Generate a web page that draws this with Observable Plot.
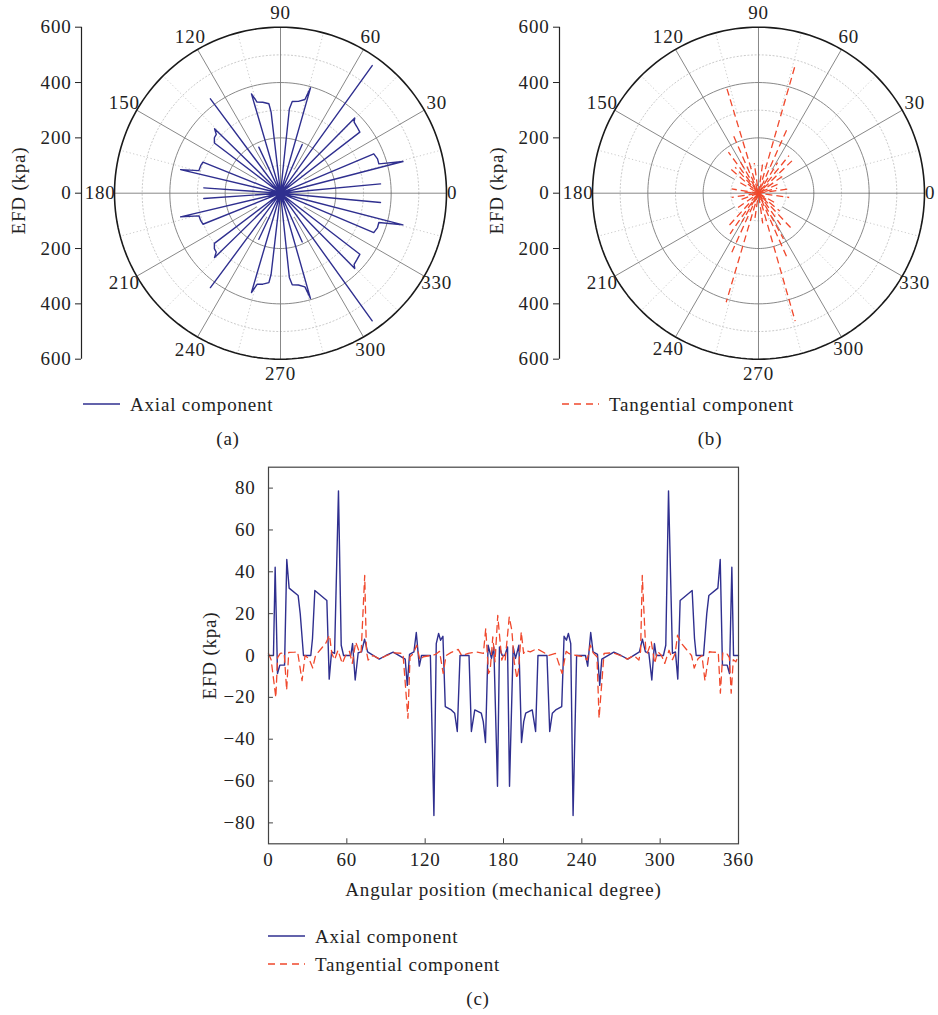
<!DOCTYPE html>
<html>
<head>
<meta charset="utf-8">
<script src="https://cdn.jsdelivr.net/npm/d3@7"></script>
<script src="https://cdn.jsdelivr.net/npm/@observablehq/plot@0.6"></script>
<style>
  html, body { margin: 0; padding: 0; background: #fff; overflow: hidden; }
  #root { position: relative; width: 938px; height: 1015px; font-family: "Liberation Serif", "Times New Roman", serif; color: #222; }
  .abs { position: absolute; }
  .txt { font-size: 19px; letter-spacing: 0.8px; white-space: nowrap; line-height: 1; }
</style>
</head>
<body>
<div id="root"></div>
<script>
// ---------------- Data ----------------
// Panel (c): Cartesian series (angle in mechanical degrees, EFD in kPa)
const axialAngle = [0, 3.8, 5.1, 6.9, 8.7, 12.3, 14, 15.8, 22.7, 24.3, 26.8, 32.4, 33.7, 35.5, 44.7, 46.5, 48.3, 50.6, 53.6, 55.7, 57.5, 63, 64.4, 66.4, 68.7, 71.3, 73.6, 75.9, 84.8, 90, 95.5, 104.7, 106.3, 108, 111.4, 113.2, 115.5, 117.2, 124, 126.7, 128.5, 130.3, 131.8, 133.6, 135.4, 140, 142.6, 144.6, 146.7, 153.6, 155.4, 158, 163, 164.5, 166.2, 168.2, 170.8, 172.6, 175.4, 176.9, 179,
  181, 183.1, 184.6, 187.4, 189.2, 191.8, 193.8, 195.5, 197, 202, 204.6, 206.4, 213.3, 215.4, 217.4, 220, 224.6, 226.4, 228.2, 229.7, 231.5, 233.3, 236, 242.8, 244.5, 246.8, 248.6, 252, 253.7, 255.3, 264.5, 270, 275.2, 284.1, 286.4, 288.7, 291.3, 293.6, 295.6, 297, 302.5, 304.3, 306.4, 309.4, 311.7, 313.5, 315.3, 324.5, 326.3, 327.6, 333.2, 335.7, 337.3, 344.2, 346, 347.7, 351.3, 353.1, 354.9, 356.2, 360];
const axialValue = [0, 0, 42.2, -8.6, -4.6, -4.6, 45.9, 32.2, 28.7, 20, 0, 0, 8.1, 31.1, 26.3, -11.3, 1.7, 1, 78.7, 4.9, 0, 0, 5.7, -11.7, 1.3, 1.7, 7.8, 1.7, -1.7, 0, 1.6, -1.7, -14.3, 0.5, 1.7, 11, -5.1, 0, 0, -76.5, 5.7, 10.5, 7.3, 9.2, -24.4, -26, -27.6, -36.3, 0, 0, -36.3, -26, -27.6, -31.6, -41.6, 4.9, -1.4, 4.1, -62.5, 4.1, 0,
  0, 4.1, -62.5, 4.1, -1.4, 4.9, -41.6, -31.6, -27.6, -26, -36.3, 0, 0, -36.3, -27.6, -26, -24.4, 9.2, 7.3, 10.5, 5.7, -76.5, 0, 0, -5.1, 11, 1.7, 0.5, -14.3, -1.7, 1.6, 0, -1.7, 1.7, 7.8, 1.7, 1.3, -11.7, 5.7, 0, 0, 4.9, 78.7, 1, 1.7, -11.3, 26.3, 31.1, 8.1, 0, 0, 20, 28.7, 32.2, 45.9, -4.6, -4.6, -8.6, 42.2, 0, 0];

const tangAngle = [0, 2, 5.6, 7, 9, 12, 13.9, 15.5, 20, 22.3, 25.7, 28, 31, 33.9, 36, 40, 44, 46.7, 48.5, 50.6, 53.2, 56.5, 59, 62, 64.2, 66.8, 69.9, 71, 73.7, 75, 76.3, 80, 85.3, 90.4, 96, 103, 106.8, 108.4, 111, 113.5, 116, 118.6, 124, 128, 131, 133.8, 136, 140, 145.3, 147.9, 153, 159.5, 164.6, 166.4, 168.5, 169.8, 171.8, 173.5, 175.6, 177.4, 178.7, 180,
  181.3, 182.6, 184.4, 186.4, 188.2, 190.3, 191.5, 193.6, 195.4, 196.7, 200.5, 205.6, 212, 214.7, 219.8, 224.9, 228, 230, 232, 236, 241.4, 244, 246.5, 249, 251.6, 253.2, 257, 264, 269.6, 274.7, 280, 283.7, 285, 286.3, 289, 290.1, 293.2, 295.8, 298, 301, 303.5, 306.8, 309.4, 311.5, 313.3, 316, 320, 324, 326.1, 329, 332, 334.3, 337.7, 340, 344.5, 346.1, 348, 351, 353, 354.4, 356, 358, 360];
const tangValue = [1, -2, -20, -1, 1, 1.3, -16.5, 1.5, 1.6, 1.8, -12, 0, -1.5, -6, 0, 3, 6, 9.7, 1, -2, 2.5, -3.8, 0, 2, -3.8, 6.5, 1, 2, 38.3, 2, -2.2, 0, -1.7, 0, 1.3, 1, -30, -0.6, 1, 4.9, -2.2, -0.6, 0, 0.5, 2, -8.6, 0, 1.5, 2.9, 0, 1, 1.7, 1, 12.9, -8.6, -7, 8.9, -3, 19.2, 6.5, -2.2, 0,
  -2.2, 6.5, 18.4, 12, -3, -11, -7, 11.3, 1, 2.5, 1.7, 3.3, 1, 0, 1, -8.6, 2, 1, 0.5, 0, -0.6, -2.2, 4.9, 1, -0.6, -30, 1, 1.3, 0, -1.7, 0, -2.2, 2, 38.3, 2, 1, 6.5, -3.8, 2, 0, -3.8, 2.5, -2, 1, 9.7, 6, 3, 0, -6, -1.5, 0, -12, 1.8, 1.6, 1.5, -18, 1.3, 1, -1, -18, -2, -3, 0];

// Panel (a): polar trace of the axial component (angle in degrees, radius in kPa), 0 radius = pole
const polarAxialAngle = [0, 5.3, 0, 14.5, 16.6, 19.5, 22.9, 0, 37.6, 41, 44, 45.4, 0, 54.3, 0, 66, 0, 74.1, 75.4, 79, 82.7, 84, 0, 96.6, 97.4, 101, 104.4, 106.3, 0, 115.2, 0, 126.6, 0, 135.7, 137.5, 140, 142.8, 0, 158.2, 161, 164.5, 166.7, 0, 176, 0,
  184, 0, 193.3, 195.5, 199, 201.8, 0, 217.2, 220, 222.5, 224.3, 0, 233.4, 0, 244.8, 0, 253.7, 255.6, 259, 262.6, 263.4, 0, 276, 277.3, 281, 284.6, 285.9, 0, 294, 0, 305.7, 0, 314.6, 316, 319, 322.4, 0, 337.1, 340.5, 343.4, 345.5, 0, 354.7, 0];
const polarAxialRadius = [0, 363, 0, 457, 371, 372, 366, 0, 362, 366, 370, 382, 0, 568, 0, 193, 0, 396, 350, 338, 334, 306, 0, 295, 326, 335, 340, 374, 0, 184, 0, 425, 0, 333, 315, 312, 300, 0, 302, 305, 306, 371, 0, 278, 0,
  278, 0, 371, 306, 305, 302, 0, 300, 312, 315, 333, 0, 425, 0, 184, 0, 374, 340, 335, 326, 295, 0, 306, 334, 338, 350, 396, 0, 193, 0, 568, 0, 382, 370, 366, 362, 0, 366, 372, 371, 457, 0, 363, 0];

// Panel (b): polar trace of the tangential component, rays from the pole (angle deg, radius kPa)
const polarTangAngle = [8, 15, 25, 35, 44, 51, 58, 66, 74, 82, 98, 106.8, 113.5, 120, 126.2, 132, 139, 150, 171, 176,
  189, 200, 215, 227.6, 235, 240, 245.7, 253.5, 262, 278, 286, 293.9, 298.7, 305, 313, 320, 330, 352];
const polarTangRadius = [112, 70, 90, 110, 168, 175, 130, 252, 478, 120, 110, 404, 226, 140, 184, 126, 135, 80, 98, 60,
  98, 70, 90, 166, 179, 120, 234, 411, 100, 110, 481, 253, 188, 140, 177, 100, 80, 112];

// Scales / tick labels
const radialTicks = [-600, -400, -200, 0, 200, 400, 600];
const angleTicks = [0, 30, 60, 90, 120, 150, 180, 210, 240, 270, 300, 330];
const majorRings = [200, 400];
const minorRings = [100, 300, 500];
const outerRing = [600];
const minorSpokes = [15, 45, 75, 105, 135, 165, 195, 225, 255, 285, 315, 345];
const majorSpokes = [30, 60, 120, 150, 210, 240, 300, 330];
const axisDiameters = [0, 90];
const xTicksC = [0, 60, 120, 180, 240, 300, 360];
const yTicksC = [-80, -60, -40, -20, 0, 20, 40, 60, 80];

// ---------------- Drawing ----------------
const FONT = "'Liberation Serif', 'Times New Roman', serif";
const BLUE = "#2f2f8f";
const RED = "#f0482c";
const INK = "#222";
const STYLE = `font-family:${FONT};font-size:19px;letter-spacing:0.8px;color:${INK};background:white;overflow:visible;`;
const rad = d => d * Math.PI / 180;
const root = document.getElementById("root");

function place(el, left, top) {
  const w = document.createElement("div");
  w.className = "abs";
  w.style.left = left + "px";
  w.style.top = top + "px";
  w.appendChild(el);
  root.appendChild(w);
  return w;
}

function ringPoints(radii) {
  const pts = [];
  for (const r of radii) for (let a = 0; a <= 360; a += 2) pts.push({r, x: r * Math.cos(rad(a)), y: r * Math.sin(rad(a))});
  return pts;
}

function polarPanel(width, dataMarks) {
  const H = 380, ml = 81, cx = 280, cy = 192.7, k = 166 / 600;
  return Plot.plot({
    width, height: H,
    marginLeft: ml, marginRight: 0, marginTop: 0, marginBottom: 0,
    style: STYLE,
    x: {domain: [(ml - cx) / k, (width - cx) / k], axis: null},
    y: {domain: [(cy - H) / k, cy / k]},
    marks: [
      Plot.line(ringPoints(minorRings), {x: "x", y: "y", z: "r", stroke: "#bdbdbd", strokeWidth: 0.8, strokeDasharray: "1.2,2.4"}),
      Plot.link(minorSpokes, {x1: d => 300 * Math.cos(rad(d)), y1: d => 300 * Math.sin(rad(d)), x2: d => 600 * Math.cos(rad(d)), y2: d => 600 * Math.sin(rad(d)), stroke: "#bdbdbd", strokeWidth: 0.8, strokeDasharray: "1.2,2.4"}),
      Plot.line(ringPoints(majorRings), {x: "x", y: "y", z: "r", stroke: "#7a7a7a", strokeWidth: 0.9}),
      Plot.link(majorSpokes, {x1: d => 100 * Math.cos(rad(d)), y1: d => 100 * Math.sin(rad(d)), x2: d => 600 * Math.cos(rad(d)), y2: d => 600 * Math.sin(rad(d)), stroke: "#7a7a7a", strokeWidth: 0.9}),
      Plot.link(axisDiameters, {x1: d => -600 * Math.cos(rad(d)), y1: d => -600 * Math.sin(rad(d)), x2: d => 600 * Math.cos(rad(d)), y2: d => 600 * Math.sin(rad(d)), stroke: "#7a7a7a", strokeWidth: 0.9}),
      Plot.line(ringPoints(outerRing), {x: "x", y: "y", z: "r", stroke: "#1a1a1a", strokeWidth: 1.6}),
      ...dataMarks,
      Plot.text(angleTicks, {filter: d => d !== 0, x: d => 652 * Math.cos(rad(d)), y: d => 652 * Math.sin(rad(d)), text: d => String(d), fill: INK, fontSize: 19}),
      Plot.text(angleTicks, {filter: d => d === 0, x: d => 620 * Math.cos(rad(d)), y: d => 620 * Math.sin(rad(d)), text: d => String(d), fill: INK, fontSize: 19}),
      Plot.ruleX([(ml - cx) / k], {y1: -600, y2: 600, stroke: INK, strokeWidth: 1.2}),
      Plot.axisY({ticks: radialTicks, tickFormat: d => String(Math.abs(d)), tickSize: 6, tickPadding: 4, fontSize: 19,
        label: "EFD (kpa)", labelAnchor: "center", labelOffset: 70, labelArrow: "none"})
    ]
  });
}

// Panel (a)
const axialPolarPts = polarAxialAngle.map((a, i) => ({x: polarAxialRadius[i] * Math.cos(rad(a)), y: polarAxialRadius[i] * Math.sin(rad(a))}));
const panelA = polarPanel(470, [
  Plot.line(axialPolarPts, {x: "x", y: "y", stroke: BLUE, strokeWidth: 1.4, strokeLinejoin: "round"})
]);
place(panelA, 0, 0);

// Panel (b)
const tangRays = polarTangAngle.map((a, i) => ({i, x: polarTangRadius[i] * Math.cos(rad(a)), y: polarTangRadius[i] * Math.sin(rad(a))}));
const panelB = polarPanel(459.7, [
  Plot.link(tangRays, {filter: d => d.i % 3 === 0, x1: 0, y1: 0, x2: "x", y2: "y", stroke: RED, strokeWidth: 1.3, strokeDasharray: "7,4", strokeDashoffset: 0}),
  Plot.link(tangRays, {filter: d => d.i % 3 === 1, x1: 0, y1: 0, x2: "x", y2: "y", stroke: RED, strokeWidth: 1.3, strokeDasharray: "7,4", strokeDashoffset: 4}),
  Plot.link(tangRays, {filter: d => d.i % 3 === 2, x1: 0, y1: 0, x2: "x", y2: "y", stroke: RED, strokeWidth: 1.3, strokeDasharray: "7,4", strokeDashoffset: 8})
]);
place(panelB, 478.3, 0);

// Panel (c)
const axialRows = axialAngle.map((a, i) => ({angle: a, efd: axialValue[i]}));
const tangRows = tangAngle.map((a, i) => ({angle: a, efd: tangValue[i]}));
const panelC = Plot.plot({
  width: 938, height: 470,
  marginLeft: 268, marginRight: 200, marginTop: 26.7, marginBottom: 66.7,
  style: STYLE,
  x: {domain: [0, 360]},
  y: {domain: [-90, 90]},
  marks: [
    Plot.line(axialRows, {x: "angle", y: "efd", stroke: BLUE, strokeWidth: 1.4}),
    Plot.line(tangRows, {x: "angle", y: "efd", stroke: RED, strokeWidth: 1.3, strokeDasharray: "7,5"}),
    Plot.frame({stroke: "#444", strokeWidth: 1.2}),
    Plot.ruleX(xTicksC, {y1: -90, y2: -87.6, stroke: "#444"}),
    Plot.ruleY(yTicksC, {x1: 0, x2: 3.8, stroke: "#444"}),
    Plot.axisX({ticks: xTicksC, tickSize: 0, tickPadding: 9, fontSize: 19,
      label: "Angular position (mechanical degree)", labelAnchor: "center", labelOffset: 52, labelArrow: "none"}),
    Plot.axisY({ticks: yTicksC, tickSize: 0, tickPadding: 13, fontSize: 19,
      label: "EFD (kpa)", labelAnchor: "center", labelOffset: 66, labelArrow: "none"})
  ]
});
place(panelC, 0, 440);

// Legends and sub-captions
function legendItem(left, top, color, dash, label) {
  const div = document.createElement("div");
  div.className = "abs txt";
  div.style.left = left + "px";
  div.style.top = top + "px";
  div.style.display = "flex";
  div.style.alignItems = "center";
  const ns = "http://www.w3.org/2000/svg";
  const svg = document.createElementNS(ns, "svg");
  svg.setAttribute("width", 48); svg.setAttribute("height", 20);
  const ln = document.createElementNS(ns, "line");
  ln.setAttribute("x1", 0); ln.setAttribute("x2", 37); ln.setAttribute("y1", 10); ln.setAttribute("y2", 10);
  ln.setAttribute("stroke", color); ln.setAttribute("stroke-width", 1.4);
  if (dash) ln.setAttribute("stroke-dasharray", dash);
  svg.appendChild(ln);
  div.appendChild(svg);
  const t = document.createElement("span");
  t.textContent = label;
  t.style.marginLeft = "-1px";
  div.appendChild(t);
  root.appendChild(div);
}
function caption(cxp, cyp, label) {
  const d = document.createElement("div");
  d.className = "abs txt";
  d.textContent = label;
  d.style.left = cxp + "px";
  d.style.top = cyp + "px";
  d.style.transform = "translate(-50%, -50%)";
  root.appendChild(d);
}
legendItem(83, 394, BLUE, null, "Axial component");
legendItem(562, 394, RED, "7,5", "Tangential component");
caption(228, 438, "(a)");
caption(710, 438, "(b)");
legendItem(268, 926, BLUE, null, "Axial component");
legendItem(268, 954, RED, "7,5", "Tangential component");
caption(478, 998, "(c)");
</script>
</body>
</html>
